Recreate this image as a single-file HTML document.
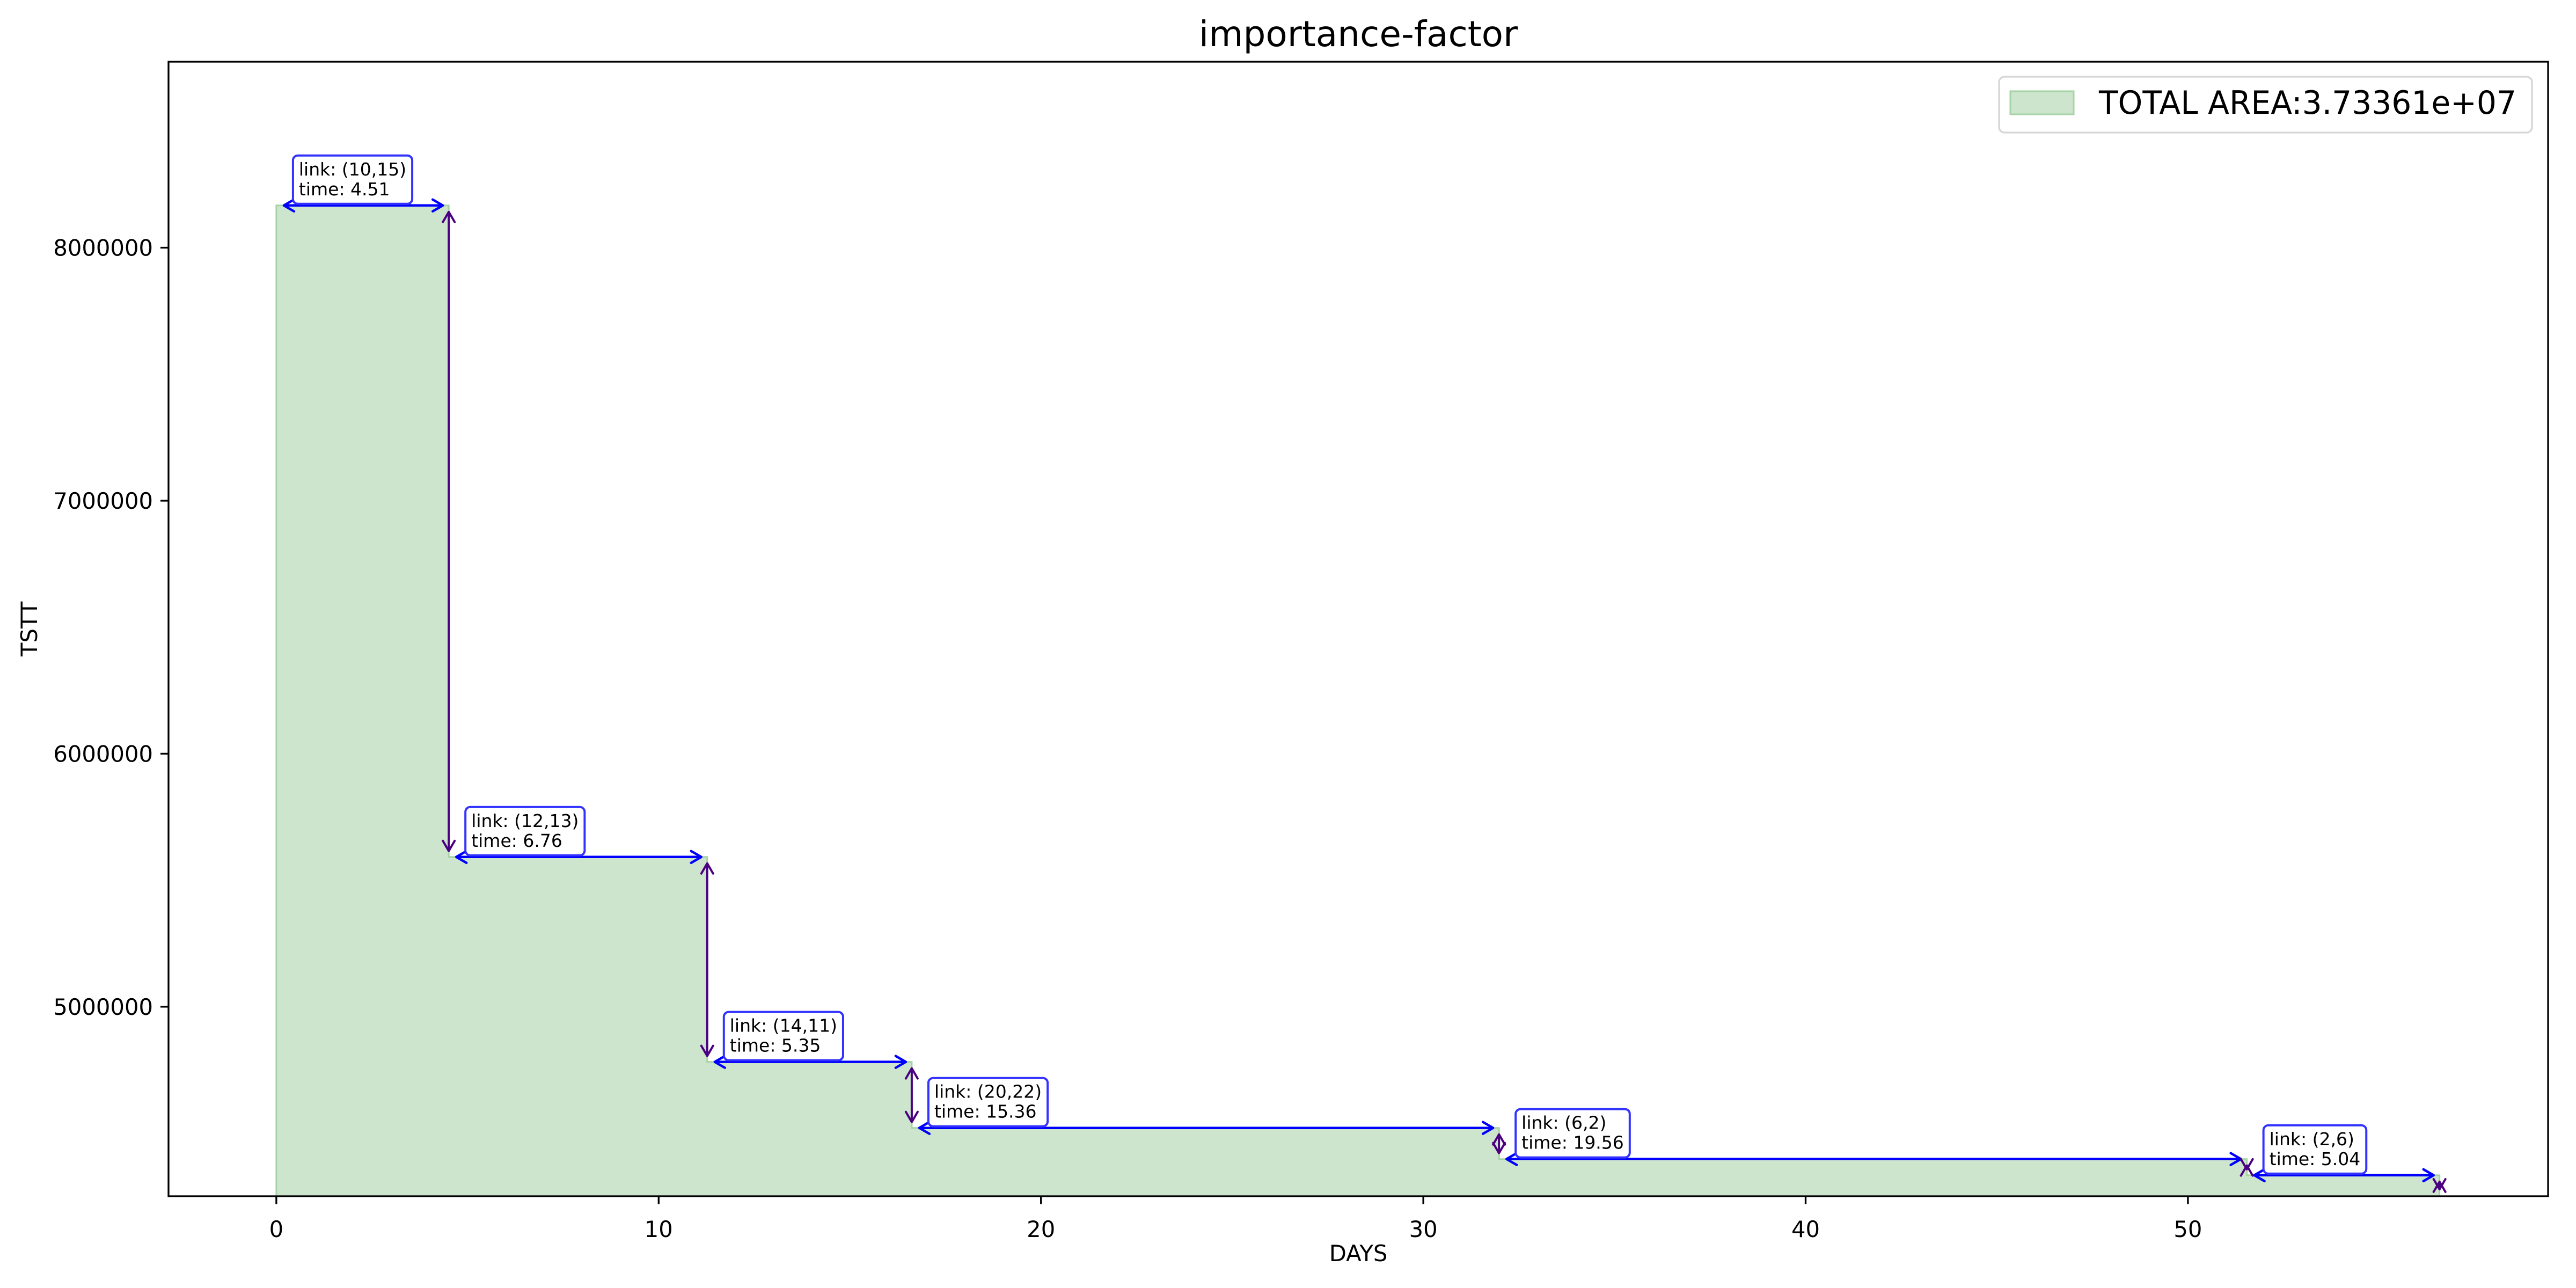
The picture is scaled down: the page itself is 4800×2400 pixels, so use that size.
<!DOCTYPE html>
<html><head><meta charset="utf-8"><title>importance-factor</title>
<style>html,body{margin:0;padding:0;background:#fff}svg{display:block}text{font-family:"DejaVu Sans","Liberation Sans",sans-serif}</style>
</head><body>
<svg id="chart" xmlns="http://www.w3.org/2000/svg" width="4800" height="2400" viewBox="0 0 4800 2400">
<rect x="0" y="0" width="4800" height="2400" fill="#fff"/>
<text x="2531" y="86" font-size="66" text-anchor="middle">importance-factor</text>
<g id="plot"></g>
<g id="axes"></g>
<text x="2531" y="2350" font-size="41.7" text-anchor="middle">DAYS</text>
<text x="0" y="0" font-size="41.7" text-anchor="middle" transform="translate(69,1172) rotate(-90)">TSTT</text>
<g>
<rect x="3725" y="143" width="993" height="104" rx="10" fill="#fff" fill-opacity="0.8" stroke="#d6d6d6" stroke-width="3.3"/>
<rect x="3746" y="170" width="118" height="43" fill="#cde5cd" stroke="#a6d3a6" stroke-width="3"/>
<text x="3911" y="212" font-size="60" textLength="778" lengthAdjust="spacingAndGlyphs">TOTAL AREA:3.73361e+07</text>
</g>
</svg>
<script>
const links = ["(10,15)","(12,13)","(14,11)","(20,22)","(6,2)","(2,6)"];
const durations = [4.51,6.76,5.35,15.36,19.56,5.04];
const levels = [8167000,5592000,4782000,4521000,4398000,4334000];
const finalLevel = 4255000;
const xTicks = [0,10,20,30,40,50];
const yTicks = [5000000,6000000,7000000,8000000];
const yTickLabels = ["5000000","6000000","7000000","8000000"];

const NS = "http://www.w3.org/2000/svg";
const L = 314, R = 4748, T = 115, B = 2229;
const xMin = -2.82, xMax = 59.42;
const yMin = 4251000, yMax = 8735000;
function xs(v){ return L + (v - xMin) / (xMax - xMin) * (R - L); }
function ys(v){ return B - (v - yMin) / (yMax - yMin) * (B - T); }
function mk(tag, attrs, parent){
  const e = document.createElementNS(NS, tag);
  for (const k in attrs) e.setAttribute(k, attrs[k]);
  parent.appendChild(e);
  return e;
}
const plot = document.getElementById('plot');
const axes = document.getElementById('axes');

const starts = [];
let acc = 0;
for (let i = 0; i < durations.length; i++){ starts.push(acc); acc += durations[i]; }
const ends = starts.map((s, i) => s + durations[i]);

const defs = mk('defs', {}, plot);
const cp = mk('clipPath', {id: 'clip'}, defs);
mk('rect', {x: L, y: T, width: R - L, height: B - T}, cp);
const g = mk('g', {'clip-path': 'url(#clip)'}, plot);

let d = 'M' + xs(0) + ',' + (B + 50);
for (let i = 0; i < levels.length; i++){
  d += ' L' + xs(starts[i]) + ',' + ys(levels[i]) + ' L' + xs(ends[i]) + ',' + ys(levels[i]);
}
d += ' L' + xs(ends[ends.length - 1]) + ',' + (B + 50) + ' Z';
const area = mk('path', {d: d, fill: '#cde5cd', stroke: '#a6d3a6', 'stroke-width': 3}, g);



function chevron(parent, x, y, dx, dy, color, w){
  const len = 19, hw = 11;
  const px = -dy, py = dx;
  const p = 'M' + (x - dx*len + px*hw) + ',' + (y - dy*len + py*hw) + ' L' + x + ',' + y + ' L' + (x - dx*len - px*hw) + ',' + (y - dy*len - py*hw);
  return mk('path', {d: p, fill: 'none', stroke: color, 'stroke-width': w, 'stroke-linecap': 'round', 'stroke-linejoin': 'round'}, parent);
}

const nextLevels = levels.slice(1).concat([finalLevel]);
for (let i = 0; i < levels.length; i++){
  const hg = mk('g', {}, g);
  
  
  const y = ys(levels[i]);
  const x1 = xs(starts[i]) + 14, x2 = xs(ends[i]) - 11;
  mk('line', {x1: x1, y1: y, x2: x2, y2: y, stroke: '#0000ff', 'stroke-width': 4.5}, hg);
  chevron(hg, x1, y, -1, 0, '#0000ff', 4.5);
  chevron(hg, x2, y, 1, 0, '#0000ff', 4.5);

  const vg = mk('g', {}, g);
  
  
  const vx = xs(ends[i]);
  const ya = ys(levels[i]) + 12, yb = ys(nextLevels[i]) - 11;
  mk('line', {x1: vx, y1: ya, x2: vx, y2: yb, stroke: '#4b0082', 'stroke-width': 4}, vg);
  chevron(vg, vx, ya, 0, -1, '#4b0082', 4);
  chevron(vg, vx, yb, 0, 1, '#4b0082', 4);
}

for (let i = 0; i < levels.length; i++){
  const ag = mk('g', {}, plot);
  
  
  const bx = xs(starts[i]) + 31;
  const by = ys(levels[i]) - 3 - 90;
  const rect = mk('rect', {x: bx, y: by, width: 200, height: 90, rx: 9, fill: '#fff', stroke: '#3333ff', 'stroke-width': 4}, ag);
  const t1 = mk('text', {x: bx + 11, y: by + 37, 'font-size': 33}, ag);
  t1.textContent = 'link: ' + links[i];
  const t2 = mk('text', {x: bx + 11, y: by + 74, 'font-size': 33}, ag);
  t2.textContent = 'time: ' + durations[i].toFixed(2);
  const w = Math.max(t1.getComputedTextLength(), t2.getComputedTextLength());
  rect.setAttribute('width', w + 22);
}

const frame = mk('rect', {x: L, y: T, width: R - L, height: B - T, fill: 'none', stroke: '#000', 'stroke-width': 3.3}, axes);



for (let i = 0; i < xTicks.length; i++){
  const x = xs(xTicks[i]);
  const tk = mk('line', {x1: x, y1: B, x2: x, y2: B + 15, stroke: '#000', 'stroke-width': 3.3}, axes);
  
  
  const lb = mk('text', {x: x, y: 2305, 'font-size': 41.7, 'text-anchor': 'middle'}, axes);
  
  
  lb.textContent = String(xTicks[i]);
}
for (let i = 0; i < yTicks.length; i++){
  const y = ys(yTicks[i]);
  const tk = mk('line', {x1: L - 15, y1: y, x2: L, y2: y, stroke: '#000', 'stroke-width': 3.3}, axes);
  
  
  const lb = mk('text', {x: L - 29, y: y + 15, 'font-size': 41.7, 'text-anchor': 'end'}, axes);
  
  
  lb.textContent = yTickLabels[i];
}
</script>
</body></html>
